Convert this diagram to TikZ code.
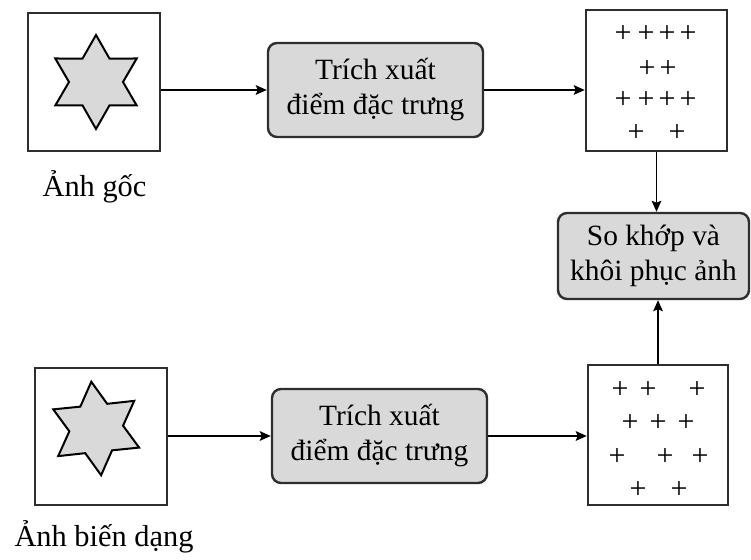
\documentclass[tikz,border=0pt]{standalone}
\usepackage{fontspec}
\setmainfont{Liberation Serif}
\usetikzlibrary{arrows.meta}
\definecolor{boxfill}{HTML}{D9D9D9}
\definecolor{edge}{HTML}{2E2E2E}
\begin{document}
\begin{tikzpicture}[x=0.5pt,y=0.5pt,
  txt/.style={font=\fontsize{14.7}{17.5}\selectfont, text=black},
  lbltxt/.style={font=\fontsize{15.2}{18}\selectfont, text=black},
  framebox/.style={draw=edge, line width=1.25pt, fill=white, inner sep=0pt},
  procbox/.style={txt, draw=edge, line width=1.2pt, fill=boxfill,
    rounded corners=4.5pt, align=center, inner sep=0pt,
    minimum width=107.5pt, minimum height=47pt},
  plussign/.style={font=\fontsize{15}{18}\selectfont, inner sep=0pt},
  arr/.style={draw=black, line width=0.95pt,
    -{Stealth[length=5.5pt, width=4.8pt, inset=1pt]}},
  starline/.style={draw=black, line width=1pt, fill=boxfill, line join=miter},
  pics/hexstar/.style={code={
    \draw[starline] (90:47)
      \foreach \k in {1,...,11}{ -- ({90+30*\k}:{ifthenelse(isodd(\k),27,47)}) }
      -- cycle;
  }}
]
\useasboundingbox (0,0) rectangle (751,560);

% upper branch: original image
\node[framebox, minimum width=66pt, minimum height=69pt] (img1) at (94,478) {};
\pic at (96,478) {hexstar};
\node[lbltxt, anchor=base] (lbl1) at (94.5,363) {Ảnh gốc};
\node[procbox] (tr1) at (375.5,470) {Trích xuất\\điểm đặc trưng};
\node[framebox, minimum width=70.5pt, minimum height=70.5pt] (pl1) at (656.5,479.5) {};
\foreach \px/\py [count=\i] in {623/526, 646/526, 667/526, 688/526,
                               647/491, 668/491,
                               623/460, 646/460, 667/460, 688/460,
                               636/427, 677/427}
  \node[plussign] (pa\i) at (\px,\py) {+};

% matching block
\node[procbox, minimum width=95.5pt, minimum height=43pt] (match) at (653.5,304)
  {So khớp và\\khôi phục ảnh};

% lower branch: distorted image
\node[framebox, minimum width=66pt, minimum height=68.5pt] (img2) at (101,123.5) {};
\pic[rotate=6] at (96.2,131.5) {hexstar};
\node[lbltxt, anchor=base] (lbl2) at (104,13) {Ảnh biến dạng};
\node[procbox] (tr2) at (379.5,124) {Trích xuất\\điểm đặc trưng};
\node[framebox, minimum width=70pt, minimum height=70pt] (pl2) at (658,125) {};
\foreach \px/\py [count=\i] in {620/170, 648/170, 697/170,
                               630/137, 658/137, 686/137,
                               617/103, 665/103, 700/103,
                               638/70, 679/70}
  \node[plussign] (pb\i) at (\px,\py) {+};

% connectors
\draw[arr] (img1.east |- tr1.west) -- (tr1.west);
\draw[arr] (tr1.east) -- (tr1.east -| pl1.west);
\draw[arr] (pl1.south) -- (pl1.south |- match.north);
\draw[arr] (img2.east |- tr2.west) -- (tr2.west);
\draw[arr] (tr2.east) -- (tr2.east -| pl2.west);
\draw[arr] (pl2.north) -- (pl2.north |- match.south);
\end{tikzpicture}
\end{document}
